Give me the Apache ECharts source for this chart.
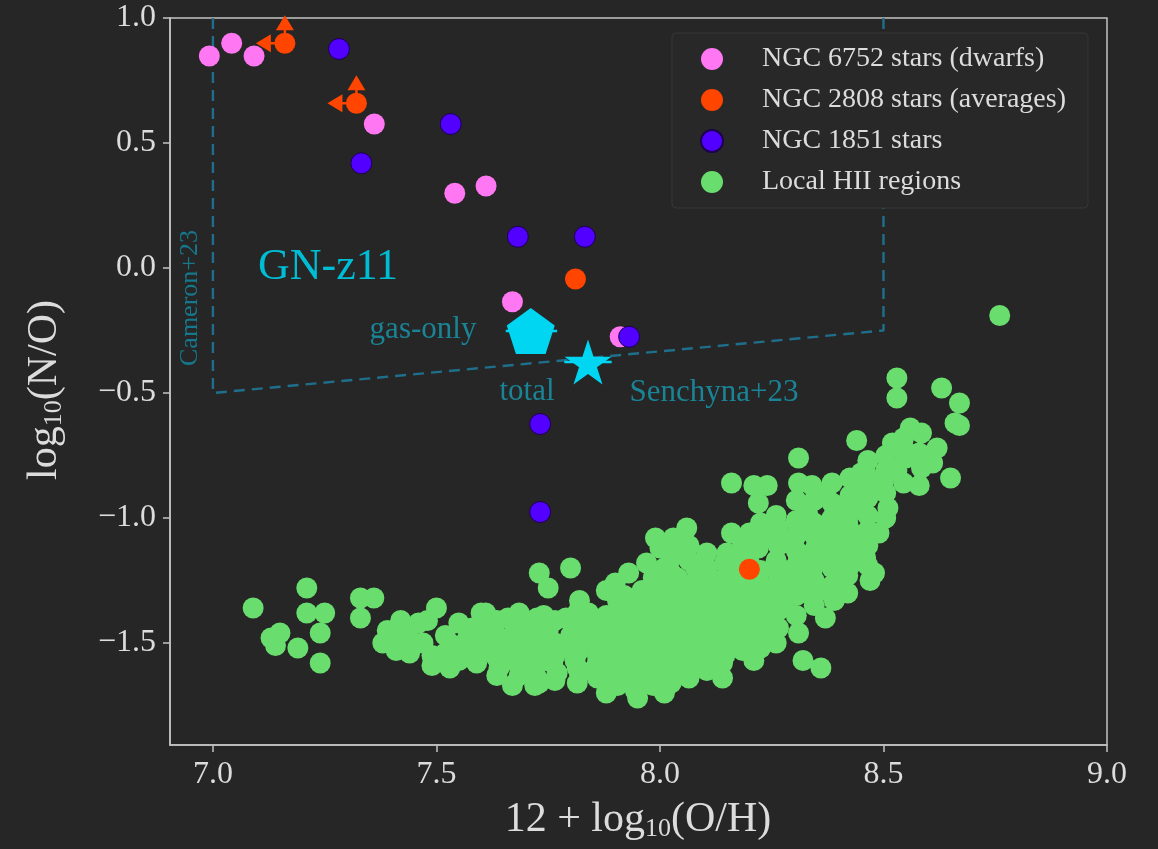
<!DOCTYPE html>
<html>
<head>
<meta charset="utf-8">
<script src="https://cdn.jsdelivr.net/npm/echarts@6/dist/echarts.min.js"></script>
<style>
  html, body { margin: 0; padding: 0; background: #262626; }
  #chart { width: 1158px; height: 849px; }
</style>
</head>
<body>
<div id="chart"></div>
<script>
// Tick positions
const xTicks = [7.0, 7.5, 8.0, 8.5, 9.0];
const yTicks = [-1.5, -1.0, -0.5, 0.0, 0.5, 1.0];

// Globular-cluster stars: [12 + log(O/H), log(N/O)]
const ngc6752 = [
  [6.992, 0.848], [7.042, 0.899], [7.092, 0.848], [7.361, 0.576],
  [7.541, 0.299], [7.611, 0.328], [7.670, -0.135], [7.911, -0.275]
];
const ngc2808 = [
  [7.161, 0.899], [7.321, 0.659], [7.811, -0.044], [8.200, -1.205]
];
// upper/lower-limit flags for the NGC 2808 averages
const ngc2808IsLimit = [true, true, false, false];
const ngc1851 = [
  [7.282, 0.876], [7.532, 0.576], [7.332, 0.419], [7.682, 0.125],
  [7.832, 0.125], [7.931, -0.275], [7.732, -0.624], [7.732, -0.976]
];

// GN-z11 estimates: [x, y, xLow, xHigh]
const gnz11GasOnly = [[7.711, -0.252, 7.655, 7.770]];
const gnz11Total = [[7.839, -0.376, 7.786, 7.892]];

// Cameron+23 allowed region outline
const cameronBox = [[7.0, 1.0], [7.0, -0.5], [8.5, -0.25], [8.5, 1.0]];

// Local HII regions
const hiiRegions = [
  [7.09,-1.36],[7.13,-1.48],[7.15,-1.46],[7.14,-1.51],[7.19,-1.52],[7.21,-1.28],[7.21,-1.38],
  [7.25,-1.38],[7.24,-1.46],[7.24,-1.58],[7.33,-1.32],[7.36,-1.32],[7.33,-1.40],
  [7.42,-1.41],[7.41,-1.48],[7.41,-1.53],[7.44,-1.54],[7.47,-1.50],[7.49,-1.55],[7.49,-1.59],
  [7.53,-1.60],[7.48,-1.41],[7.50,-1.36],[7.55,-1.42],[7.57,-1.48],[7.57,-1.54],[7.60,-1.38],[7.61,-1.48],
  [7.43,-1.45],[7.45,-1.50],[7.46,-1.42],[7.52,-1.47],[7.52,-1.54],[7.54,-1.51],[7.55,-1.57],
  [7.58,-1.44],[7.59,-1.52],[7.59,-1.58],[7.62,-1.50],[7.38,-1.50],[7.39,-1.45],
  [7.73,-1.22],[7.80,-1.20],[7.75,-1.28],[7.82,-1.33],[7.88,-1.29],[7.90,-1.26],[7.93,-1.22],
  [7.92,-1.31],[7.97,-1.18],[8.01,-1.20],[7.99,-1.08],[8.03,-1.08],[8.06,-1.04],[8.04,-1.13],[8.00,-1.12],
  [7.61,-1.38],[7.62,-1.44],[7.61,-1.53],[7.64,-1.60],
  [7.66,-1.40],[7.67,-1.47],[7.66,-1.53],[7.68,-1.58],[7.67,-1.67],
  [7.70,-1.42],[7.71,-1.50],[7.70,-1.56],[7.72,-1.61],[7.72,-1.67],[7.73,-1.66],
  [7.74,-1.39],[7.75,-1.45],[7.74,-1.53],[7.76,-1.58],[7.77,-1.62],
  [7.79,-1.40],[7.80,-1.47],[7.78,-1.52],[7.81,-1.57],[7.82,-1.62],
  [7.84,-1.38],[7.85,-1.44],[7.83,-1.50],[7.86,-1.55],[7.85,-1.61],
  [7.88,-1.39],[7.89,-1.46],[7.88,-1.52],[7.90,-1.58],[7.88,-1.64],[7.88,-1.70],
  [7.92,-1.36],[7.93,-1.42],[7.91,-1.49],[7.94,-1.55],[7.93,-1.61],[7.93,-1.64],[7.95,-1.72],
  [7.96,-1.29],[7.97,-1.35],[7.96,-1.41],[7.98,-1.47],[7.97,-1.53],[7.99,-1.58],[7.97,-1.64],
  [8.00,-1.27],[8.01,-1.33],[8.00,-1.39],[8.02,-1.45],[8.00,-1.51],[8.02,-1.57],[8.01,-1.63],[8.01,-1.70],
  [8.04,-1.24],[8.05,-1.30],[8.04,-1.36],[8.06,-1.42],[8.05,-1.48],[8.04,-1.54],[8.06,-1.60],[8.06,-1.62],
  [8.08,-1.20],[8.09,-1.27],[8.08,-1.33],[8.10,-1.39],[8.09,-1.45],[8.08,-1.51],[8.10,-1.57],
  [8.11,-1.24],[8.12,-1.30],[8.13,-1.36],[8.12,-1.42],[8.13,-1.48],[8.12,-1.52],[8.14,-1.58],[8.14,-1.64],
  [8.15,-1.14],[8.16,-1.21],[8.17,-1.27],[8.16,-1.33],[8.17,-1.41],[8.16,-1.46],[8.19,-1.49],
  [8.20,-1.06],[8.20,-1.18],[8.21,-1.25],[8.20,-1.36],[8.22,-1.43],[8.21,-1.57],[8.22,-1.12],
  [8.24,-1.06],[8.24,-1.28],[8.25,-1.34],[8.24,-1.41],[8.26,-1.17],
  [8.16,-0.86],[8.21,-0.87],[8.24,-0.87],[8.22,-0.94],[8.26,-0.99],[8.16,-1.06],
  [8.29,-1.10],[8.29,-1.26],[8.28,-1.33],[8.31,-1.46],[8.26,-1.50],[8.29,-1.21],
  [8.31,-0.86],[8.33,-0.98],[8.31,-1.16],[8.34,-1.21],[8.32,-1.57],[8.36,-1.60],[8.33,-1.05],[8.33,-1.30],
  [8.34,-0.87],[8.37,-0.91],[8.35,-1.09],[8.37,-1.17],[8.37,-1.29],[8.37,-1.40],[8.38,-1.04],
  [8.40,-0.96],[8.42,-1.02],[8.41,-1.17],[8.39,-1.33],[8.42,-1.30],[8.40,-1.10],[8.42,-1.23],
  [8.44,-0.88],[8.45,-0.82],[8.44,-1.08],[8.46,-1.16],[8.45,-0.95],[8.44,-0.69],
  [8.49,-0.87],[8.46,-0.82],[8.51,-0.96],[8.49,-1.06],[8.48,-1.22],[8.47,-1.25],[8.50,-0.85],
  [8.52,-0.80],[8.52,-0.70],[8.53,-0.44],[8.53,-0.52],[8.56,-0.64],[8.55,-0.76],[8.53,-0.81],
  [8.58,-0.74],[8.61,-0.78],[8.65,-0.84],[8.58,-0.87],[8.63,-0.48],[8.67,-0.54],[8.66,-0.62],
  [8.67,-0.63],[8.31,-0.76],[8.76,-0.19],
  // dense core of the sequence
  [7.635,-1.41],[7.635,-1.47],[7.635,-1.56],[7.635,-1.63],
  [7.685,-1.38],[7.685,-1.44],[7.685,-1.51],[7.685,-1.55],[7.685,-1.63],
  [7.725,-1.40],[7.725,-1.46],[7.725,-1.53],[7.725,-1.58],[7.725,-1.64],
  [7.765,-1.41],[7.765,-1.50],[7.765,-1.55],[7.765,-1.65],
  [7.815,-1.38],[7.815,-1.43],[7.815,-1.50],[7.815,-1.54],[7.815,-1.60],[7.815,-1.66],
  [7.86,-1.41],[7.86,-1.47],[7.86,-1.53],[7.86,-1.58],[7.86,-1.64],
  [7.905,-1.33],[7.905,-1.40],[7.905,-1.44],[7.905,-1.51],[7.905,-1.55],[7.905,-1.61],[7.905,-1.67],
  [7.945,-1.32],[7.945,-1.39],[7.945,-1.45],[7.945,-1.51],[7.945,-1.58],[7.945,-1.66],[7.945,-1.69],
  [7.985,-1.24],[7.985,-1.31],[7.985,-1.37],[7.985,-1.43],[7.985,-1.50],[7.985,-1.55],[7.985,-1.61],[7.985,-1.67],
  [8.025,-1.16],[8.025,-1.22],[8.025,-1.29],[8.025,-1.35],[8.025,-1.41],[8.025,-1.47],[8.025,-1.53],[8.025,-1.59],[8.025,-1.66],
  [8.065,-1.11],[8.065,-1.17],[8.065,-1.27],[8.065,-1.33],[8.065,-1.39],[8.065,-1.45],[8.065,-1.51],[8.065,-1.57],[8.065,-1.64],
  [8.105,-1.14],[8.105,-1.20],[8.105,-1.29],[8.105,-1.35],[8.105,-1.42],[8.105,-1.48],[8.105,-1.54],[8.105,-1.61],
  [8.145,-1.18],[8.145,-1.24],[8.145,-1.30],[8.145,-1.38],[8.145,-1.44],[8.145,-1.50],[8.145,-1.55],
  [8.185,-1.10],[8.185,-1.16],[8.185,-1.23],[8.185,-1.30],[8.185,-1.38],[8.185,-1.44],[8.185,-1.53],
  [8.225,-1.02],[8.225,-1.09],[8.225,-1.21],[8.225,-1.31],[8.225,-1.38],[8.225,-1.46],[8.225,-1.52],
  [8.265,-1.04],[8.265,-1.11],[8.265,-1.23],[8.265,-1.29],[8.265,-1.37],[8.265,-1.44],
  [8.305,-0.93],[8.305,-1.01],[8.305,-1.07],[8.305,-1.13],[8.305,-1.19],[8.305,-1.25],[8.305,-1.31],[8.305,-1.39],
  [8.345,-0.93],[8.345,-1.02],[8.345,-1.13],[8.345,-1.18],[8.345,-1.25],[8.345,-1.35],
  [8.385,-0.86],[8.385,-0.94],[8.385,-1.00],[8.385,-1.07],[8.385,-1.13],[8.385,-1.20],[8.385,-1.27],
  [8.425,-0.84],[8.425,-0.91],[8.425,-0.98],[8.425,-1.05],[8.425,-1.12],[8.425,-1.19],
  [8.465,-0.77],[8.465,-0.86],[8.465,-0.92],[8.465,-0.99],[8.465,-1.05],[8.465,-1.11],[8.465,-1.19],
  [8.505,-0.75],[8.505,-0.81],[8.505,-0.90],[8.505,-1.00],
  [8.545,-0.68],[8.545,-0.72],[8.545,-0.86],
  [8.585,-0.66],[8.585,-0.80],[8.62,-0.72]
];

const serif = '"Liberation Serif", "DejaVu Serif", serif';
const fg = '#dcdcdc';
const spine = '#c4c4c4';
const cyan = '#00d6f2';
const teal = '#1a8496';

const fmt = v => v.toFixed(1).replace('-', '\u2212');

const pentagon = 'path://M0,-1 L0.951,-0.309 L0.588,0.809 L-0.588,0.809 L-0.951,-0.309 Z';
const star = 'path://M0,-1 L0.2245,-0.309 L0.951,-0.309 L0.363,0.118 L0.588,0.809 L0,0.382 L-0.588,0.809 L-0.363,0.118 L-0.951,-0.309 L-0.2245,-0.309 Z';

// Horizontal error bar drawn from [x, y, xLow, xHigh]
function xErrorBar(params, api) {
  const a = api.coord([api.value(2), api.value(1)]);
  const b = api.coord([api.value(3), api.value(1)]);
  return {
    type: 'line',
    shape: { x1: a[0], y1: a[1], x2: b[0], y2: b[1] },
    style: { stroke: cyan, lineWidth: 2.5 }
  };
}

// Left and upward limit arrows
function limitArrows(params, api) {
  const c = api.coord([api.value(0), api.value(1)]);
  const col = '#ff4500';
  return {
    type: 'group',
    children: [
      { type: 'line', shape: { x1: c[0], y1: c[1], x2: c[0] - 16, y2: c[1] }, style: { stroke: col, lineWidth: 2.5 } },
      { type: 'polygon', shape: { points: [[c[0] - 29, c[1]], [c[0] - 14, c[1] - 9], [c[0] - 14, c[1] + 9]] }, style: { fill: col } },
      { type: 'line', shape: { x1: c[0], y1: c[1], x2: c[0], y2: c[1] - 16 }, style: { stroke: col, lineWidth: 2.5 } },
      { type: 'polygon', shape: { points: [[c[0], c[1] - 28], [c[0] - 9, c[1] - 13], [c[0] + 9, c[1] - 13]] }, style: { fill: col } }
    ]
  };
}

const chart = echarts.init(document.getElementById('chart'), null, { renderer: 'canvas' });

const axisCommon = {
  type: 'value',
  splitLine: { show: false },
  axisLine: { show: true, onZero: false, lineStyle: { color: spine, width: 1.5 } },
  axisTick: { show: true, inside: false, length: 7, lineStyle: { color: spine, width: 1.5 } },
  axisLabel: { color: fg, fontFamily: serif, fontSize: 32, formatter: fmt }
};

const axisTitleRich = {
  m: { fontSize: 42, lineHeight: 44, fontFamily: serif, fill: fg },
  s: { fontSize: 26, lineHeight: 14, verticalAlign: 'bottom', fontFamily: serif, fill: fg }
};

chart.setOption({
  backgroundColor: '#262626',
  animation: false,
  grid: {
    left: 170, right: 51, top: 18, bottom: 104,
    show: true, borderColor: spine, borderWidth: 1.5, backgroundColor: 'transparent'
  },
  xAxis: Object.assign({}, axisCommon, {
    min: 6.904, max: 9.0,
    axisTick: Object.assign({}, axisCommon.axisTick, { customValues: xTicks }),
    axisLabel: Object.assign({}, axisCommon.axisLabel, { customValues: xTicks, margin: 14 })
  }),
  yAxis: Object.assign({}, axisCommon, {
    min: -1.908, max: 1.0,
    axisTick: Object.assign({}, axisCommon.axisTick, { customValues: yTicks }),
    axisLabel: Object.assign({}, axisCommon.axisLabel, { customValues: yTicks, margin: 14 })
  }),
  legend: {
    orient: 'vertical',
    left: 672, top: 33,
    padding: [12, 22, 12, 28],
    itemGap: 13,
    itemWidth: 22, itemHeight: 22,
    icon: 'circle',
    backgroundColor: '#282828',
    borderColor: '#363636', borderWidth: 1, borderRadius: 4,
    data: ['NGC 6752 stars (dwarfs)', 'NGC 2808 stars (averages)', 'NGC 1851 stars', 'Local HII regions'],
    textStyle: { color: fg, fontFamily: serif, fontSize: 28, padding: [0, 0, 0, 34] },
    selectedMode: false
  },
  graphic: [
    { type: 'text', x: 45, y: 390, rotation: Math.PI / 2,
      style: { text: '{m|log}{s|10}{m|(N/O)}', align: 'center', verticalAlign: 'middle', fill: fg, rich: axisTitleRich } },
    { type: 'text', x: 638, y: 820,
      style: { text: '{m|12 + log}{s|10}{m|(O/H)}', align: 'center', verticalAlign: 'middle', fill: fg, rich: axisTitleRich } },
    { type: 'text', x: 190, y: 298, rotation: Math.PI / 2,
      style: { text: 'Cameron+23', align: 'center', verticalAlign: 'middle', fill: '#16788c', fontFamily: serif, fontSize: 26 } },
    { type: 'text', x: 328, y: 267,
      style: { text: 'GN-z11', align: 'center', verticalAlign: 'middle', fill: '#00bdd6', fontFamily: serif, fontSize: 44 } },
    { type: 'text', x: 423, y: 330,
      style: { text: 'gas-only', align: 'center', verticalAlign: 'middle', fill: teal, fontFamily: serif, fontSize: 31 } },
    { type: 'text', x: 527, y: 392,
      style: { text: 'total', align: 'center', verticalAlign: 'middle', fill: teal, fontFamily: serif, fontSize: 31 } },
    { type: 'text', x: 714, y: 393,
      style: { text: 'Senchyna+23', align: 'center', verticalAlign: 'middle', fill: teal, fontFamily: serif, fontSize: 31 } }
  ],
  series: [
    {
      type: 'line', name: 'Cameron+23 region', data: cameronBox,
      showSymbol: false, symbol: 'none', silent: true,
      lineStyle: { color: '#1f6f8c', width: 2.4, type: [11, 7] }, z: 1
    },
    {
      type: 'scatter', name: 'Local HII regions', data: hiiRegions,
      symbolSize: 21, itemStyle: { color: '#69de6e', opacity: 1 }, z: 2
    },
    {
      type: 'scatter', name: 'NGC 6752 stars (dwarfs)', data: ngc6752,
      symbolSize: 21, itemStyle: { color: '#ff77f2', opacity: 1 }, z: 3
    },
    {
      type: 'custom', name: 'NGC 2808 limits',
      data: ngc2808.filter((d, i) => ngc2808IsLimit[i]),
      renderItem: limitArrows, z: 3
    },
    {
      type: 'scatter', name: 'NGC 2808 stars (averages)', data: ngc2808,
      symbolSize: 21, itemStyle: { color: '#ff4500', opacity: 1 }, z: 3
    },
    {
      type: 'scatter', name: 'NGC 1851 stars', data: ngc1851,
      symbolSize: 21, itemStyle: { color: '#5200ff', borderColor: '#1b0050', borderWidth: 1, opacity: 1 }, z: 3
    },
    {
      type: 'custom', name: 'GN-z11 errors', data: gnz11GasOnly.concat(gnz11Total),
      renderItem: xErrorBar, z: 4
    },
    {
      type: 'scatter', name: 'GN-z11 gas-only', data: gnz11GasOnly,
      symbol: pentagon, symbolSize: [48, 46], itemStyle: { color: cyan, opacity: 1 }, z: 5
    },
    {
      type: 'scatter', name: 'GN-z11 total', data: gnz11Total,
      symbol: star, symbolSize: [47, 45], itemStyle: { color: cyan, opacity: 1 }, z: 5
    }
  ]
});
</script>
</body>
</html>
